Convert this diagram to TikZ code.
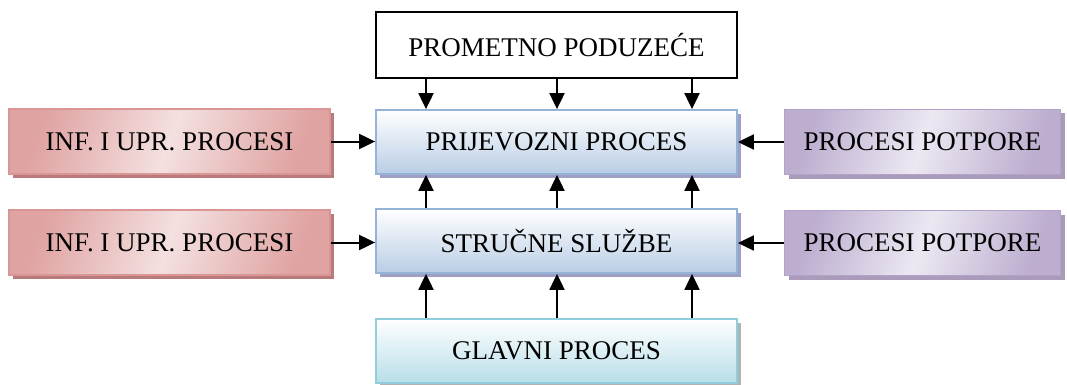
\documentclass[tikz,border=0pt]{standalone}
\usepackage{fontspec}
\setmainfont{Liberation Serif}
\usetikzlibrary{arrows.meta,positioning,shadows}

\definecolor{redln}{HTML}{D99694}
\definecolor{reddk}{HTML}{DFA3A2}
\definecolor{redlt}{HTML}{F4E0E0}
\definecolor{purln}{HTML}{B3A2C7}
\definecolor{purdk}{HTML}{BDAED0}
\definecolor{purlt}{HTML}{ECE8F2}
\definecolor{bluln}{HTML}{95B3D7}
\definecolor{blubt}{HTML}{B9CDE5}
\definecolor{cyaln}{HTML}{92CDDC}
\definecolor{cyabt}{HTML}{B7DEE8}

\begin{document}
\begin{tikzpicture}[
  x=1pt, y=-1pt,
  >={Triangle[length=16pt,width=15pt]},
  box/.style={
    rectangle, line width=1.8pt, inner sep=0pt,
    font=\fontsize{27}{31}\selectfont
  },
  topbox/.style={box, draw=black, fill=white,
    minimum width=361pt, minimum height=66pt},
  midbox/.style={box, draw=bluln, top color=white, bottom color=blubt,
    minimum width=361pt, minimum height=64pt,
    drop shadow={shadow xshift=4pt, shadow yshift=-4pt, fill=gray!75!blue!60, opacity=1}},
  mainbox/.style={box, draw=cyaln, top color=white, bottom color=cyabt,
    minimum width=361pt, minimum height=64pt,
    drop shadow={shadow xshift=4pt, shadow yshift=-4pt, fill=gray!60, opacity=1}},
  infbox/.style={box, draw=redln, left color=reddk, right color=reddk,
    middle color=redlt, shading angle=70,
    minimum width=321pt, minimum height=65pt,
    drop shadow={shadow xshift=4pt, shadow yshift=-4pt, fill=red!30!gray!80, opacity=1}},
  supbox/.style={box, draw=purln, left color=purdk, right color=purdk,
    middle color=purlt, shading angle=70,
    minimum width=276pt, minimum height=65pt,
    drop shadow={shadow xshift=4pt, shadow yshift=-4pt, fill=purln!80!gray, opacity=1}},
  link/.style={->, line width=2pt}
]
\useasboundingbox (0,0) rectangle (1067,385);

% -- Srednji stupac --
\node[topbox]  (poduzece)  at (556.5, 45)  {PROMETNO PODUZEĆE};
\node[midbox]  (prijevoz)  at (556.5, 142) {PRIJEVOZNI PROCES};
\node[midbox]  (sluzbe)    at (556.5, 241) {STRUČNE SLUŽBE};
\node[mainbox] (glavni)    at (556.5, 351) {GLAVNI PROCES};

% -- Lijevi stupac --
\node[infbox]  (inf1)      at (169.5, 141.5) {INF. I UPR. PROCESI};
\node[infbox]  (inf2)      at (169.5, 242.5) {INF. I UPR. PROCESI};

% -- Desni stupac --
\node[supbox]  (potp1)     at (922.5, 142) {PROCESI POTPORE};
\node[supbox]  (potp2)     at (922.5, 243) {PROCESI POTPORE};

% -- Stupci strelica --
\coordinate (k1) at (426, 0);
\coordinate (k2) at (557, 0);
\coordinate (k3) at (692, 0);

% -- Veze --
\foreach \k in {k1,k2,k3} {
  \draw[link] (poduzece.south -| \k) -- (prijevoz.north -| \k);
  \draw[link] (sluzbe.north -| \k)   -- (prijevoz.south -| \k);
  \draw[link] (glavni.north -| \k)   -- (sluzbe.south -| \k);
}

\draw[link] (inf1)  -- (inf1 -| prijevoz.west);
\draw[link] (inf2)  -- (inf2 -| sluzbe.west);
\draw[link] (potp1) -- (potp1 -| prijevoz.east);
\draw[link] (potp2) -- (potp2 -| sluzbe.east);

\end{tikzpicture}
\end{document}
